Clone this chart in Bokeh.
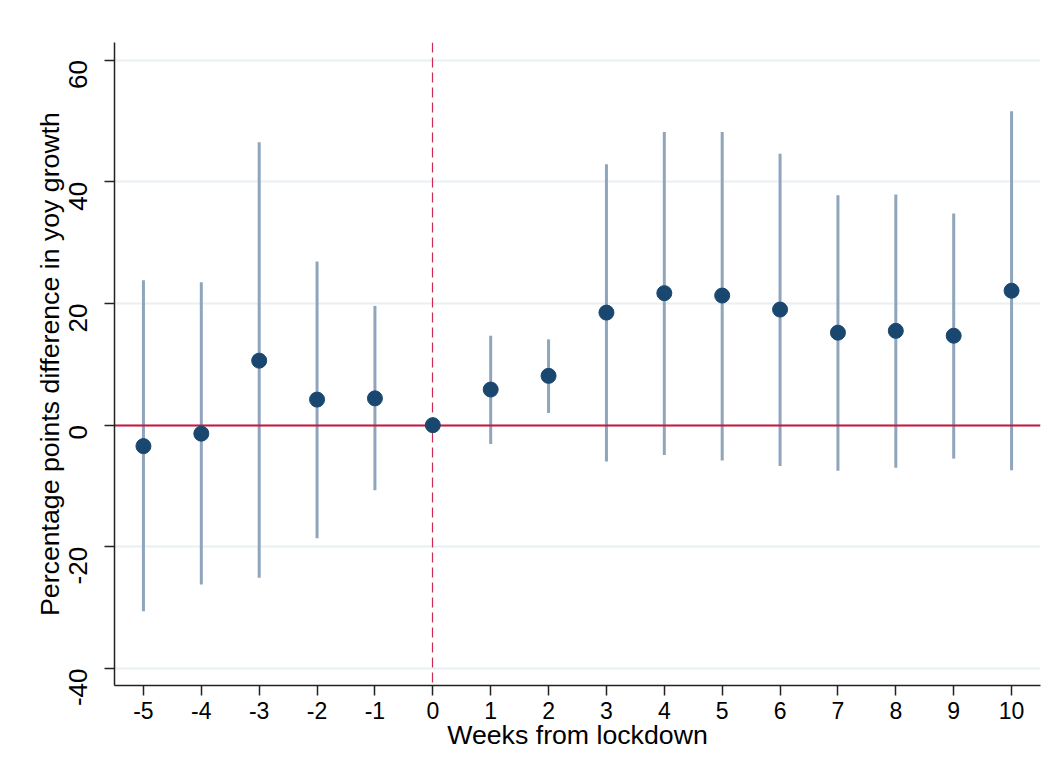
import math
from bokeh.plotting import figure
from bokeh.models import Range1d, FixedTicker, ColumnDataSource, PrintfTickFormatter
from bokeh.embed import file_html
from bokeh.resources import INLINE

# ---- data ----
weeks = [-5, -4, -3, -2, -1, 0, 1, 2, 3, 4, 5, 6, 7, 8, 9, 10]
coef = [-3.45, -1.4, 10.6, 4.2, 4.4, 0.0, 5.85, 8.1, 18.5, 21.7, 21.3, 19.0, 15.2, 15.5, 14.7, 22.1]
ci_lo = [-30.6, -26.2, -25.1, -18.6, -10.7, float("nan"), -3.1, 2.0, -5.97, -4.9, -5.8, -6.7, -7.5, -7.0, -5.5, -7.4]
ci_hi = [23.8, 23.5, 46.5, 26.9, 19.6, float("nan"), 14.7, 14.1, 42.9, 48.2, 48.2, 44.6, 37.8, 37.9, 34.8, 51.6]
x_ticks = list(range(-5, 11))
y_ticks = [-40, -20, 0, 20, 40, 60]
x_title = "Weeks from lockdown"
y_title = "Percentage points difference in yoy growth"

FONT = "Liberation Sans"
NAVY = "#1a476f"
CI_COL = "#8fa5bb"
RED = "#c9153f"
GRID = "#e9f0f3"

src = ColumnDataSource(dict(x=weeks, y=coef, lo=ci_lo, hi=ci_hi))

p = figure(width=1041, height=768, output_backend="svg", toolbar_location=None,
           x_range=Range1d(-5.5, 10.5), y_range=Range1d(-42.8, 62.9),
           min_border_left=114, min_border_right=1, min_border_top=42, min_border_bottom=83,
           frame_width=926, frame_height=643)
p.outline_line_color = None
p.background_fill_color = "white"
p.border_fill_color = "white"

# grids
p.xgrid.grid_line_color = None
p.ygrid.grid_line_color = GRID
p.ygrid.grid_line_width = 2

# axes
p.xaxis.ticker = FixedTicker(ticks=x_ticks)
p.yaxis.ticker = FixedTicker(ticks=y_ticks)
for ax in (p.xaxis, p.yaxis):
    ax.formatter = PrintfTickFormatter(format="%d")
    ax.axis_line_color = "#222222"
    ax.axis_line_width = 1.5
    ax.major_tick_line_color = "#222222"
    ax.major_tick_line_width = 1.5
    ax.major_tick_out = 10
    ax.major_tick_in = 0
    ax.minor_tick_line_color = None
    ax.major_label_text_font = FONT
    ax.major_label_text_color = "black"
    ax.axis_label_text_font = FONT
    ax.axis_label_text_font_style = "normal"
    ax.axis_label_text_color = "black"
    ax.axis_label_text_font_size = "26.7px"

p.xaxis.major_label_text_font_size = "23px"
p.yaxis.major_label_text_font_size = "26px"
p.xaxis.major_label_standoff = 6
p.yaxis.major_label_standoff = 26
p.yaxis.major_label_orientation = math.pi / 2
p.xaxis.axis_label = x_title
p.yaxis.axis_label = y_title
p.xaxis.axis_label_standoff = -2
p.yaxis.axis_label_standoff = -7

# confidence intervals
p.segment(x0="x", y0="lo", x1="x", y1="hi", source=src, line_color=CI_COL, line_width=3)

# reference lines
p.hspan(y=[0], line_color=RED, line_width=2.2)
p.vspan(x=[0], line_color=RED, line_width=1.2, line_dash="10 5", line_alpha=0.9)

# point estimates
p.scatter(x="x", y="y", source=src, size=15, fill_color=NAVY, line_color=NAVY)

open("out.html", "w").write(file_html(p, INLINE))
